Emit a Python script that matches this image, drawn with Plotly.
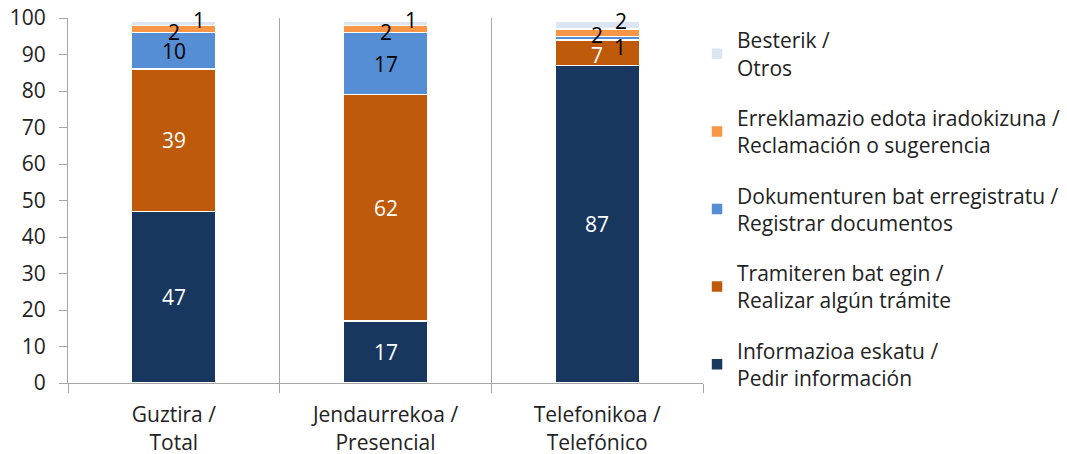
import plotly.graph_objects as go

categories = ["Guztira /<br>Total", "Jendaurrekoa /<br>Presencial", "Telefonikoa /<br>Telefónico"]
series_names = [
    "Informazioa eskatu /<br>Pedir información",
    "Tramiteren bat egin /<br>Realizar algún trámite",
    "Dokumenturen bat erregistratu /<br>Registrar documentos",
    "Erreklamazio edota iradokizuna /<br>Reclamación o sugerencia",
    "Besterik /<br>Otros",
]
info = [47, 17, 87]
tramite = [39, 62, 7]
documentos = [10, 17, 1]
reclamacion = [2, 2, 2]
otros = [1, 1, 2]

series_values = [info, tramite, documentos, reclamacion, otros]
colors = ["#17375E", "#BE5A0A", "#558ED5", "#F79646", "#DCE6F2"]
label_colors = ["white", "white", "black", "black", "black"]

# label pixel offsets (style) for small segments: (series index, category index) -> (xshift, yshift)
label_shift = {
    (3, 0): (0, -3), (4, 0): (25, 3),
    (3, 1): (0, -3), (4, 1): (25, 3),
    (1, 2): (0, -2), (2, 2): (23, -9), (3, 2): (0, -2), (4, 2): (24, 4),
}
label_black = {(3, 0), (4, 0), (3, 1), (4, 1), (2, 2), (3, 2), (4, 2)}

FONT = "Open Sans, sans-serif"
FS = 21
fig = go.Figure()
n = len(series_names)
for i, (name, vals) in enumerate(zip(series_names, series_values)):
    fig.add_trace(go.Bar(
        x=categories, y=vals, name=name, marker_color=colors[i],
        marker_line=dict(color="white", width=1.5), width=0.4,
        legendgroup=str(i), legendrank=n - i,
    ))

annotations = []
for ci, cat in enumerate(categories):
    base = 0
    for si, vals in enumerate(series_values):
        v = vals[ci]
        xs, ys = label_shift.get((si, ci), (0, 0))
        col = "black" if (si, ci) in label_black else label_colors[si]
        annotations.append(dict(
            x=cat, y=base + v / 2, text=str(v), showarrow=False,
            xshift=xs, yshift=ys,
            font=dict(family=FONT, size=FS, color=col),
        ))
        base += v

fig.update_layout(
    barmode="stack",
    width=1067, height=454,
    margin=dict(l=68, r=364, t=18, b=71, autoexpand=False),
    paper_bgcolor="white", plot_bgcolor="white",
    font=dict(family=FONT, size=FS, color="#222"),
    annotations=annotations,
    showlegend=True,
    legend=dict(
        x=0.9906, xanchor="left", yref="container", y=0.956, yanchor="top",
        traceorder="grouped", tracegroupgap=20, maxheight=1,
        font=dict(family=FONT, size=FS, color="#222"),
        itemwidth=30, bgcolor="rgba(0,0,0,0)",
    ),
)
fig.update_xaxes(
    showline=True, linecolor="#A6A6A6", linewidth=1, automargin=False,
    tickson="boundaries", ticks="outside", ticklen=9, tickcolor="#A6A6A6",
    showgrid=True, gridcolor="#A6A6A6", gridwidth=1, ticklabelstandoff=13,
    tickfont=dict(family=FONT, size=FS, color="#222"),
)
fig.update_yaxes(
    range=[0, 100], dtick=10, showgrid=False, zeroline=False, automargin=False,
    showline=True, linecolor="#A6A6A6", linewidth=1,
    ticks="outside", ticklen=8, tickcolor="#A6A6A6", ticklabelstandoff=9,
    tickfont=dict(family=FONT, size=FS, color="#222"),
)
fig.write_html("out.html", config={"displayModeBar": False},
               post_script="document.body.style.margin='0';")
